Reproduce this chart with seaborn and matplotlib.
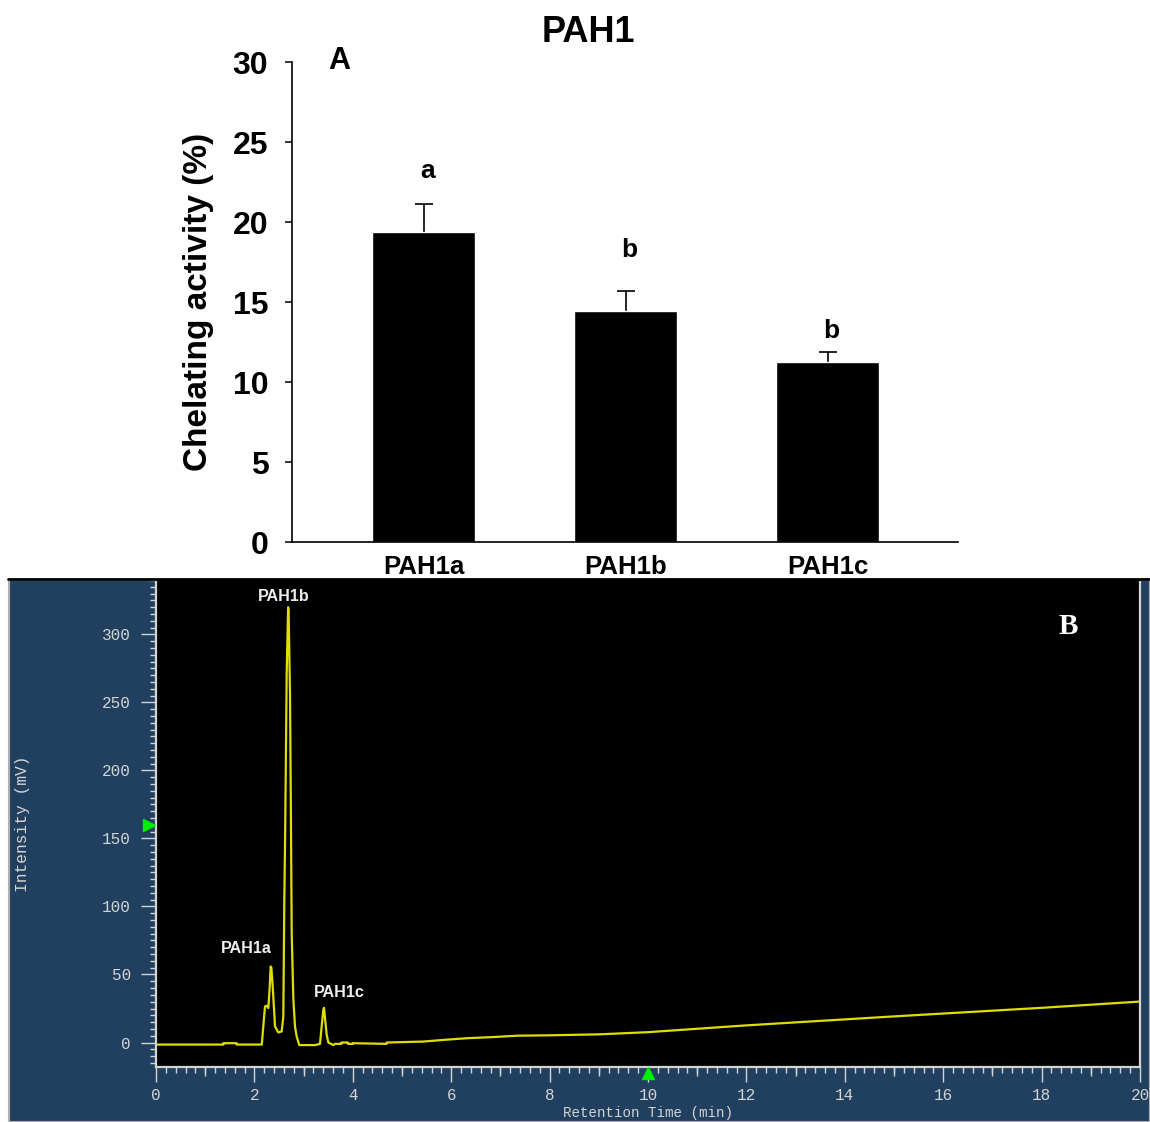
import matplotlib
matplotlib.use("Agg")
import matplotlib.pyplot as plt
import matplotlib.transforms as mtransforms
from matplotlib.patches import Rectangle
from matplotlib.lines import Line2D
from matplotlib.ticker import MultipleLocator
import numpy as np
import seaborn as sns

# ---- Panel A: chelating activity of the three fractions ----
categories = ["PAH1a", "PAH1b", "PAH1c"]
activity_mean = [19.4, 14.45, 11.25]
activity_sd = [1.7, 1.25, 0.65]
group_letters = ["a", "b", "b"]
letter_y = [22.75, 17.8, 12.75]

# ---- Panel B: HPLC chromatogram (retention time in min, signal in mV) ----
retention_time = [
    0.0, 1.37, 1.37, 1.64, 1.64, 2.15, 2.215, 2.25, 2.283, 2.31, 2.331, 2.345,
    2.372, 2.419, 2.486, 2.52, 2.554, 2.588, 2.608, 2.625, 2.656, 2.685, 2.695,
    2.724, 2.745, 2.758, 2.791, 2.825, 2.859, 2.913, 3.232, 3.333, 3.367, 3.401,
    3.415, 3.435, 3.469, 3.503, 3.604, 3.64, 3.77, 3.77, 3.9, 3.9, 4.0, 4.0,
    4.69, 4.69, 5.43, 5.87, 6.34, 6.85, 7.33, 8.0, 9.0, 10.0, 11.0, 12.0, 13.0,
    14.0, 15.0, 16.0, 17.0, 18.0, 19.0, 20.0,
]
intensity = [
    -1.5, -1.5, -0.5, -0.5, -1.5, -1.5, 26.5, 27.0, 25.3, 40.0, 55.9, 55.0,
    41.2, 11.8, 7.4, 7.8, 8.1, 19.1, 105.0, 153.0, 271.0, 320.0, 318.0,
    255.0, 153.0, 80.4, 32.6, 11.8, 4.4, -1.9, -1.9, -1.0, 11.8, 24.0,
    25.5, 18.0, 5.7, 0.0, -1.9, -1.0, -1.0, 0.0, 0.0, -1.0, -1.0, -0.5,
    -1.0, 0.0, 0.7, 2.0, 3.2, 4.0, 5.0, 5.3, 6.0, 7.6, 10.1, 12.6, 14.8,
    17.0, 19.2, 21.3, 23.4, 25.5, 27.8, 30.1,
]
peak_names = ["PAH1a", "PAH1b", "PAH1c"]
peak_label_t = [1.83, 2.60, 3.73]
peak_label_v = [68.9, 327.7, 36.8]

sns.set_style("ticks")
plt.rcParams["font.family"] = ["Liberation Sans", "DejaVu Sans"]
plt.rcParams["text.color"] = "black"

W, H = 1150, 1122
fig = plt.figure(figsize=(W / 100, H / 100), dpi=100)
fig.patch.set_facecolor("white")


def fx(px):
    return px / W


def fy(py):
    return 1 - py / H


# ================= Panel A =================
ax1 = fig.add_axes([fx(292), fy(542), fx(958 - 292), (542 - 62) / H])
sns.barplot(x=categories, y=activity_mean, color="black", saturation=1,
            width=0.51, errorbar=None, ax=ax1, zorder=2)
eb = ax1.errorbar(x=range(len(categories)), y=activity_mean,
                  yerr=[[0] * len(activity_sd), activity_sd], fmt="none",
                  ecolor="black", elinewidth=1.2, capsize=6.5, capthick=1.2,
                  zorder=1)
# keep only the upper caps
for cap in eb[1]:
    if np.allclose(cap.get_ydata(), activity_mean):
        cap.set_visible(False)

for i, (lab, ly) in enumerate(zip(group_letters, letter_y)):
    ax1.text(i + 0.02, ly, lab, ha="center", va="baseline",
             fontsize=19, fontweight="bold", color="black")

ax1.set_xlim(-0.651, 2.646)
ax1.set_ylim(0, 30)
ax1.set_yticks(range(0, 31, 5))
ax1.set_xlabel("")
ax1.set_ylabel("")
for side in ("top", "right"):
    ax1.spines[side].set_visible(False)
for side in ("left", "bottom"):
    ax1.spines[side].set_linewidth(1.2)
    ax1.spines[side].set_color("black")
ax1.tick_params(axis="y", direction="out", length=5, width=1.1, pad=12,
                labelsize=23, colors="black")
ax1.tick_params(axis="x", length=0, pad=9, labelsize=18.5, colors="black")
for t in ax1.get_yticklabels() + ax1.get_xticklabels():
    t.set_fontweight("bold")
ax1.set_facecolor("white")

fig.text(fx(198), fy(302), "Chelating activity (%)", rotation=90,
         ha="center", va="center", fontsize=24, fontweight="bold",
         color="black")
fig.text(fx(588), fy(33), "PAH1", ha="center", va="center",
         fontsize=26, fontweight="bold", color="black")
fig.text(fx(339), fy(61), "A", ha="center", va="center",
         fontsize=22, fontweight="bold", color="black")

# ================= Panel B =================
panel_blue = "#21405f"
light = "#d4d4d4"
mono = ["Liberation Mono", "DejaVu Sans Mono"]

fig.add_artist(Rectangle((fx(9), 0), 1 - fx(9), (H - 580) / H,
                         transform=fig.transFigure, facecolor=panel_blue,
                         edgecolor="#b0b0b0", linewidth=1.5, zorder=0))
fig.add_artist(Line2D([fx(8), 1], [fy(579), fy(579)], color="black",
                      linewidth=2.0, zorder=1))

ax2 = fig.add_axes([fx(156), fy(1067), fx(1140 - 156), (1067 - 580) / H])
ax2.set_facecolor("black")
sns.lineplot(x=retention_time, y=intensity, sort=False, estimator=None,
             color="#dede00", linewidth=1.6, ax=ax2)
ax2.set_xlim(0, 20)
ax2.set_ylim(-18, 340)
ax2.set_xlabel("")
ax2.set_ylabel("")

ax2.xaxis.set_major_locator(MultipleLocator(2))
ax2.xaxis.set_minor_locator(MultipleLocator(0.2))
ax2.set_yticks(range(0, 301, 50))
ax2.yaxis.set_minor_locator(MultipleLocator(5))

ax2.tick_params(which="major", direction="out", length=11, width=1.0,
                color=light, labelcolor=light, labelsize=11.5, pad=7)
ax2.tick_params(which="minor", direction="out", length=4.5, width=1.0,
                color=light)
ax2.tick_params(axis="x", which="major", pad=4)
for t in ax2.get_xticklabels() + ax2.get_yticklabels():
    t.set_family(mono)

# intermediate one-minute ticks
sec = ax2.secondary_xaxis("bottom")
sec.set_xticks(range(1, 21, 2))
sec.tick_params(direction="out", length=6.8, width=1.0, color=light,
                labelbottom=False)
sec.spines["bottom"].set_visible(False)

ax2.spines["top"].set_color("black")
for side in ("left", "bottom", "right"):
    ax2.spines[side].set_color(light)
    ax2.spines[side].set_linewidth(1.6)

for name, t, v in zip(peak_names, peak_label_t, peak_label_v):
    ax2.text(t, v, name, ha="center", va="center", color="#eeeeee",
             fontsize=11.6, fontweight="bold")

ax2.text(0.927, 0.9035, "B", transform=ax2.transAxes, ha="center",
         va="center", color="white", fontsize=21, fontweight="bold",
         family=["Liberation Serif", "DejaVu Serif"])

# green cursor markers on the axes
left_tr = mtransforms.blended_transform_factory(ax2.transAxes, ax2.transData)
ax2.plot([-0.0075], [160], marker=">", markersize=8, color="#00ee00",
         transform=left_tr, clip_on=False, linestyle="none", zorder=5)
bottom_tr = mtransforms.blended_transform_factory(ax2.transData, ax2.transAxes)
ax2.plot([10], [-0.012], marker="^", markersize=8, color="#00ee00",
         transform=bottom_tr, clip_on=False, linestyle="none", zorder=5)

fig.text(fx(648), fy(1106.5), "Retention Time (min)", ha="center", va="top",
         color=light, fontsize=10.2, family=mono)
fig.text(fx(23), fy(824), "Intensity (mV)", rotation=90, ha="center",
         va="center", color=light, fontsize=11.7, family=mono)

fig.savefig("out.png", dpi=100, facecolor=fig.get_facecolor())
